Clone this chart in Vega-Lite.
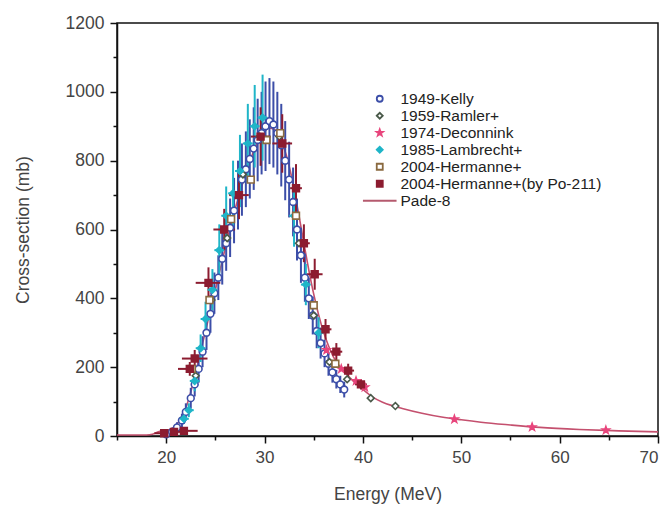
{
  "$schema": "https://vega.github.io/schema/vega-lite/v6.json",
  "width": 541,
  "height": 413,
  "autosize": {"type": "none"},
  "padding": {"left": 117, "top": 23, "right": 11, "bottom": 72},
  "background": "white",
  "config": {
    "view": {"stroke": "#111", "strokeWidth": 1.5},
    "font": "Liberation Sans",
    "axis": {"grid": false, "domainColor": "#111", "domainWidth": 1.5, "tickColor": "#111", "tickWidth": 1.5, "labelColor": "#444", "titleColor": "#444", "titleFontWeight": "normal", "labelFont": "Liberation Sans", "titleFont": "Liberation Sans"},
    "legend": {"orient": "none", "legendX": 255, "legendY": 68, "title": null, "symbolSize": 36, "symbolStrokeWidth": 1.8, "labelFontSize": 15.5, "labelColor": "#222", "labelOffset": 13, "labelLimit": 400, "rowPadding": -1, "padding": 0, "labelFont": "Liberation Sans"}
  },
  "datasets": {
    "pade": [
      {"E": 15, "v": 3}, {"E": 17, "v": 3}, {"E": 18, "v": 3}, {"E": 18.6, "v": 5}, {"E": 19.2, "v": 12}, {"E": 20, "v": 16},
      {"E": 20.6, "v": 22}, {"E": 21, "v": 32}, {"E": 21.5, "v": 50}, {"E": 22, "v": 82}, {"E": 22.5, "v": 128}, {"E": 23, "v": 185},
      {"E": 23.5, "v": 245}, {"E": 24, "v": 305}, {"E": 24.5, "v": 365}, {"E": 25, "v": 425}, {"E": 25.5, "v": 485},
      {"E": 26, "v": 545}, {"E": 26.5, "v": 603}, {"E": 27, "v": 658}, {"E": 27.5, "v": 708}, {"E": 28, "v": 755},
      {"E": 28.5, "v": 797}, {"E": 29, "v": 835}, {"E": 29.5, "v": 865}, {"E": 30, "v": 885}, {"E": 30.5, "v": 895},
      {"E": 31, "v": 890}, {"E": 31.5, "v": 870}, {"E": 32, "v": 835}, {"E": 32.5, "v": 785}, {"E": 33, "v": 718},
      {"E": 33.5, "v": 640}, {"E": 34, "v": 560}, {"E": 34.5, "v": 482}, {"E": 35, "v": 412}, {"E": 35.5, "v": 352},
      {"E": 36, "v": 302}, {"E": 36.5, "v": 262}, {"E": 37, "v": 230}, {"E": 38, "v": 190}, {"E": 39, "v": 160},
      {"E": 40, "v": 135}, {"E": 41, "v": 113}, {"E": 42, "v": 98}, {"E": 43, "v": 88}, {"E": 44, "v": 80},
      {"E": 46, "v": 66}, {"E": 48, "v": 55}, {"E": 50, "v": 47}, {"E": 52, "v": 40}, {"E": 55, "v": 32},
      {"E": 58, "v": 25}, {"E": 62, "v": 19}, {"E": 66, "v": 15}, {"E": 70, "v": 12}
    ],
    "pts": [
      {"s": "1949-Kelly", "E": 20.0, "v": 5, "lo": 0, "hi": 12},
      {"s": "1949-Kelly", "E": 20.6, "v": 12, "lo": 2, "hi": 24},
      {"s": "1949-Kelly", "E": 21.1, "v": 25, "lo": 10, "hi": 40},
      {"s": "1949-Kelly", "E": 21.6, "v": 45, "lo": 25, "hi": 65},
      {"s": "1949-Kelly", "E": 22.0, "v": 70, "lo": 45, "hi": 95},
      {"s": "1949-Kelly", "E": 22.5, "v": 110, "lo": 80, "hi": 140},
      {"s": "1949-Kelly", "E": 22.9, "v": 150, "lo": 115, "hi": 185},
      {"s": "1949-Kelly", "E": 23.3, "v": 195, "lo": 155, "hi": 235},
      {"s": "1949-Kelly", "E": 23.7, "v": 245, "lo": 200, "hi": 290},
      {"s": "1949-Kelly", "E": 24.1, "v": 300, "lo": 250, "hi": 350},
      {"s": "1949-Kelly", "E": 24.5, "v": 355, "lo": 300, "hi": 410},
      {"s": "1949-Kelly", "E": 24.9, "v": 415, "lo": 355, "hi": 475},
      {"s": "1949-Kelly", "E": 25.3, "v": 460, "lo": 395, "hi": 525},
      {"s": "1949-Kelly", "E": 25.7, "v": 515, "lo": 440, "hi": 590},
      {"s": "1949-Kelly", "E": 26.1, "v": 560, "lo": 480, "hi": 640},
      {"s": "1949-Kelly", "E": 26.5, "v": 605, "lo": 520, "hi": 690},
      {"s": "1949-Kelly", "E": 26.9, "v": 655, "lo": 560, "hi": 750},
      {"s": "1949-Kelly", "E": 27.3, "v": 700, "lo": 600, "hi": 800},
      {"s": "1949-Kelly", "E": 27.7, "v": 745, "lo": 640, "hi": 850},
      {"s": "1949-Kelly", "E": 28.1, "v": 775, "lo": 665, "hi": 885},
      {"s": "1949-Kelly", "E": 28.5, "v": 805, "lo": 690, "hi": 920},
      {"s": "1949-Kelly", "E": 28.9, "v": 835, "lo": 715, "hi": 955},
      {"s": "1949-Kelly", "E": 29.3, "v": 860, "lo": 740, "hi": 980},
      {"s": "1949-Kelly", "E": 29.7, "v": 880, "lo": 760, "hi": 1000},
      {"s": "1949-Kelly", "E": 30.1, "v": 900, "lo": 770, "hi": 1030},
      {"s": "1949-Kelly", "E": 30.5, "v": 915, "lo": 790, "hi": 1040},
      {"s": "1949-Kelly", "E": 30.9, "v": 905, "lo": 780, "hi": 1030},
      {"s": "1949-Kelly", "E": 31.3, "v": 880, "lo": 760, "hi": 1000},
      {"s": "1949-Kelly", "E": 31.7, "v": 845, "lo": 725, "hi": 965},
      {"s": "1949-Kelly", "E": 32.1, "v": 800, "lo": 685, "hi": 915},
      {"s": "1949-Kelly", "E": 32.5, "v": 745, "lo": 635, "hi": 855},
      {"s": "1949-Kelly", "E": 32.9, "v": 680, "lo": 580, "hi": 780},
      {"s": "1949-Kelly", "E": 33.3, "v": 600, "lo": 510, "hi": 690},
      {"s": "1949-Kelly", "E": 33.7, "v": 525, "lo": 445, "hi": 605},
      {"s": "1949-Kelly", "E": 34.1, "v": 460, "lo": 390, "hi": 530},
      {"s": "1949-Kelly", "E": 34.5, "v": 400, "lo": 340, "hi": 460},
      {"s": "1949-Kelly", "E": 34.9, "v": 350, "lo": 295, "hi": 405},
      {"s": "1949-Kelly", "E": 35.3, "v": 305, "lo": 255, "hi": 355},
      {"s": "1949-Kelly", "E": 35.7, "v": 270, "lo": 225, "hi": 315},
      {"s": "1949-Kelly", "E": 36.1, "v": 240, "lo": 200, "hi": 280},
      {"s": "1949-Kelly", "E": 36.5, "v": 210, "lo": 175, "hi": 245},
      {"s": "1949-Kelly", "E": 36.9, "v": 185, "lo": 155, "hi": 215},
      {"s": "1949-Kelly", "E": 37.3, "v": 165, "lo": 138, "hi": 192},
      {"s": "1949-Kelly", "E": 37.7, "v": 150, "lo": 125, "hi": 175},
      {"s": "1949-Kelly", "E": 38.1, "v": 135, "lo": 112, "hi": 158},
      {"s": "1959-Ramler+", "E": 23.0, "v": 175},
      {"s": "1959-Ramler+", "E": 24.6, "v": 395},
      {"s": "1959-Ramler+", "E": 26.2, "v": 575},
      {"s": "1959-Ramler+", "E": 27.8, "v": 760},
      {"s": "1959-Ramler+", "E": 29.5, "v": 870},
      {"s": "1959-Ramler+", "E": 31.5, "v": 870},
      {"s": "1959-Ramler+", "E": 33.5, "v": 560},
      {"s": "1959-Ramler+", "E": 35.0, "v": 350},
      {"s": "1959-Ramler+", "E": 36.6, "v": 215},
      {"s": "1959-Ramler+", "E": 38.4, "v": 165},
      {"s": "1959-Ramler+", "E": 40.8, "v": 110},
      {"s": "1959-Ramler+", "E": 43.3, "v": 87},
      {"s": "1974-Deconnink", "E": 36.3, "v": 250},
      {"s": "1974-Deconnink", "E": 37.8, "v": 195},
      {"s": "1974-Deconnink", "E": 39.3, "v": 160},
      {"s": "1974-Deconnink", "E": 40.2, "v": 142},
      {"s": "1974-Deconnink", "E": 49.3, "v": 49},
      {"s": "1974-Deconnink", "E": 57.2, "v": 26},
      {"s": "1974-Deconnink", "E": 64.7, "v": 17},
      {"s": "1985-Lambrecht+", "E": 21.8, "v": 50, "lo": 35, "hi": 65, "el": 21.3, "eh": 22.3},
      {"s": "1985-Lambrecht+", "E": 22.3, "v": 75, "lo": 55, "hi": 95, "el": 21.8, "eh": 22.8},
      {"s": "1985-Lambrecht+", "E": 22.9, "v": 160, "lo": 130, "hi": 190, "el": 22.4, "eh": 23.4},
      {"s": "1985-Lambrecht+", "E": 23.5, "v": 255, "lo": 215, "hi": 295, "el": 23.0, "eh": 24.0},
      {"s": "1985-Lambrecht+", "E": 24.0, "v": 340, "lo": 290, "hi": 390, "el": 23.5, "eh": 24.5},
      {"s": "1985-Lambrecht+", "E": 24.7, "v": 425, "lo": 365, "hi": 485, "el": 24.2, "eh": 25.2},
      {"s": "1985-Lambrecht+", "E": 25.4, "v": 540, "lo": 465, "hi": 615, "el": 24.9, "eh": 25.9},
      {"s": "1985-Lambrecht+", "E": 26.1, "v": 640, "lo": 555, "hi": 725, "el": 25.6, "eh": 26.6},
      {"s": "1985-Lambrecht+", "E": 26.8, "v": 705, "lo": 610, "hi": 800, "el": 26.3, "eh": 27.3},
      {"s": "1985-Lambrecht+", "E": 27.5, "v": 770, "lo": 665, "hi": 875, "el": 27.0, "eh": 28.0},
      {"s": "1985-Lambrecht+", "E": 28.3, "v": 850, "lo": 735, "hi": 965, "el": 27.8, "eh": 28.8},
      {"s": "1985-Lambrecht+", "E": 29.0, "v": 900, "lo": 780, "hi": 1020, "el": 28.5, "eh": 29.5},
      {"s": "1985-Lambrecht+", "E": 29.8, "v": 925, "lo": 800, "hi": 1050, "el": 29.3, "eh": 30.3},
      {"s": "1985-Lambrecht+", "E": 33.0, "v": 640, "lo": 550, "hi": 730, "el": 32.5, "eh": 33.5},
      {"s": "1985-Lambrecht+", "E": 34.2, "v": 440, "lo": 380, "hi": 500, "el": 33.7, "eh": 34.7},
      {"s": "1985-Lambrecht+", "E": 35.5, "v": 300, "lo": 255, "hi": 345, "el": 35.0, "eh": 36.0},
      {"s": "2004-Hermanne+", "E": 22.6, "v": 195},
      {"s": "2004-Hermanne+", "E": 24.4, "v": 395},
      {"s": "2004-Hermanne+", "E": 26.6, "v": 630},
      {"s": "2004-Hermanne+", "E": 28.6, "v": 745},
      {"s": "2004-Hermanne+", "E": 30.2, "v": 860},
      {"s": "2004-Hermanne+", "E": 31.6, "v": 880},
      {"s": "2004-Hermanne+", "E": 33.2, "v": 640},
      {"s": "2004-Hermanne+", "E": 35.0, "v": 380},
      {"s": "2004-Hermanne+", "E": 37.2, "v": 210},
      {"s": "2004-Hermanne+(by Po-211)", "E": 19.8, "v": 8, "lo": 3, "hi": 13, "el": 18.8, "eh": 21.0},
      {"s": "2004-Hermanne+(by Po-211)", "E": 20.8, "v": 12, "lo": 6, "hi": 18, "el": 19.5, "eh": 22.2},
      {"s": "2004-Hermanne+(by Po-211)", "E": 21.8, "v": 15, "lo": 8, "hi": 22, "el": 20.5, "eh": 23.2},
      {"s": "2004-Hermanne+(by Po-211)", "E": 22.4, "v": 195, "lo": 175, "hi": 215, "el": 21.2, "eh": 23.6},
      {"s": "2004-Hermanne+(by Po-211)", "E": 22.9, "v": 225, "lo": 200, "hi": 250, "el": 21.6, "eh": 24.2},
      {"s": "2004-Hermanne+(by Po-211)", "E": 24.3, "v": 445, "lo": 400, "hi": 490, "el": 23.0, "eh": 25.5},
      {"s": "2004-Hermanne+(by Po-211)", "E": 25.9, "v": 600, "lo": 540, "hi": 660, "el": 24.8, "eh": 27.0},
      {"s": "2004-Hermanne+(by Po-211)", "E": 27.4, "v": 700, "lo": 630, "hi": 770, "el": 26.4, "eh": 28.4},
      {"s": "2004-Hermanne+(by Po-211)", "E": 29.6, "v": 870, "lo": 785, "hi": 955, "el": 28.6, "eh": 30.6},
      {"s": "2004-Hermanne+(by Po-211)", "E": 31.8, "v": 850, "lo": 765, "hi": 935, "el": 30.8, "eh": 32.8},
      {"s": "2004-Hermanne+(by Po-211)", "E": 33.2, "v": 720, "lo": 650, "hi": 790, "el": 32.6, "eh": 33.8},
      {"s": "2004-Hermanne+(by Po-211)", "E": 34.0, "v": 560, "lo": 505, "hi": 615, "el": 33.4, "eh": 34.6},
      {"s": "2004-Hermanne+(by Po-211)", "E": 35.1, "v": 470, "lo": 425, "hi": 515, "el": 34.3, "eh": 35.9},
      {"s": "2004-Hermanne+(by Po-211)", "E": 36.2, "v": 310, "lo": 280, "hi": 340, "el": 35.6, "eh": 36.8},
      {"s": "2004-Hermanne+(by Po-211)", "E": 37.3, "v": 245, "lo": 220, "hi": 270, "el": 36.7, "eh": 37.9},
      {"s": "2004-Hermanne+(by Po-211)", "E": 38.5, "v": 190, "lo": 170, "hi": 210, "el": 37.9, "eh": 39.1},
      {"s": "2004-Hermanne+(by Po-211)", "E": 39.8, "v": 150, "lo": 135, "hi": 165, "el": 39.2, "eh": 40.4}
    ]
  },
  "layer": [
    {
      "data": {"name": "pade"},
      "mark": {"type": "line", "color": "#c4506e", "strokeWidth": 1.6, "interpolate": "monotone"},
      "encoding": {
        "x": {"field": "E", "type": "quantitative", "scale": {"domain": [15, 70], "nice": false, "zero": false},
              "axis": {"orient": "bottom", "values": [20, 30, 40, 50, 60, 70], "tickSize": 7, "labelFontSize": 17, "labelPadding": 6, "title": "Energy (MeV)", "titleFontSize": 17.5, "titlePadding": 20}},
        "y": {"field": "v", "type": "quantitative", "scale": {"domain": [0, 1200], "nice": false},
              "axis": {"orient": "left", "format": "d", "values": [0, 200, 400, 600, 800, 1000, 1200], "tickSize": 7, "labelFontSize": 17.5, "labelPadding": 6, "title": "Cross-section (mb)", "titleFontSize": 17.5, "titlePadding": 33}}
      }
    },
    {
      "data": {"name": "pts"},
      "transform": [{"filter": "isValid(datum.lo)"}],
      "mark": {"type": "rule", "strokeWidth": 2},
      "encoding": {
        "x": {"field": "E", "type": "quantitative", "axis": null},
        "y": {"field": "lo", "type": "quantitative", "axis": null},
        "y2": {"field": "hi"},
        "stroke": {"field": "s", "type": "nominal"}
      }
    },
    {
      "data": {"name": "pts"},
      "transform": [{"filter": "isValid(datum.el)"}],
      "mark": {"type": "rule", "strokeWidth": 2},
      "encoding": {
        "x": {"field": "el", "type": "quantitative", "axis": null},
        "x2": {"field": "eh"},
        "y": {"field": "v", "type": "quantitative", "axis": null},
        "stroke": {"field": "s", "type": "nominal"}
      }
    },
    {
      "data": {"name": "pts"},
      "mark": {"type": "point", "filled": true, "size": 46, "strokeWidth": 1.6, "opacity": 1},
      "encoding": {
        "x": {"field": "E", "type": "quantitative",
              "axis": {"orient": "bottom", "values": [15, 25, 35, 45, 55, 65], "tickSize": 4, "labels": false, "domain": false, "title": null}},
        "y": {"field": "v", "type": "quantitative",
              "axis": {"orient": "left", "values": [100, 300, 500, 700, 900, 1100], "tickSize": 4, "labels": false, "domain": false, "title": null}},
        "stroke": {"field": "s", "type": "nominal", "title": null,
          "scale": {"domain": ["1949-Kelly", "1959-Ramler+", "1974-Deconnink", "1985-Lambrecht+", "2004-Hermanne+", "2004-Hermanne+(by Po-211)", "Pade-8"],
                    "range": ["#3c4ea8", "#4a5a4a", "#e8457c", "#1fb5c8", "#8a6a40", "#8c1c30", "#b55a6e"]}},
        "fill": {"field": "s", "type": "nominal", "title": null,
          "scale": {"domain": ["1949-Kelly", "1959-Ramler+", "1974-Deconnink", "1985-Lambrecht+", "2004-Hermanne+", "2004-Hermanne+(by Po-211)", "Pade-8"],
                    "range": ["white", "white", "#e8457c", "#1fb5c8", "white", "#8c1c30", "transparent"]}},
        "shape": {"field": "s", "type": "nominal", "title": null,
          "scale": {"domain": ["1949-Kelly", "1959-Ramler+", "1974-Deconnink", "1985-Lambrecht+", "2004-Hermanne+", "2004-Hermanne+(by Po-211)", "Pade-8"],
                    "range": ["circle", "diamond", "M0,-1.1L0.26,-0.36L1.05,-0.34L0.42,0.14L0.65,0.9L0,0.45L-0.65,0.9L-0.42,0.14L-1.05,-0.34L-0.26,-0.36Z", "diamond", "square", "square", "M-5.6,0H5.6"]}}
      }
    }
  ],
  "resolve": {"axis": {"x": "independent", "y": "independent"}}
}
